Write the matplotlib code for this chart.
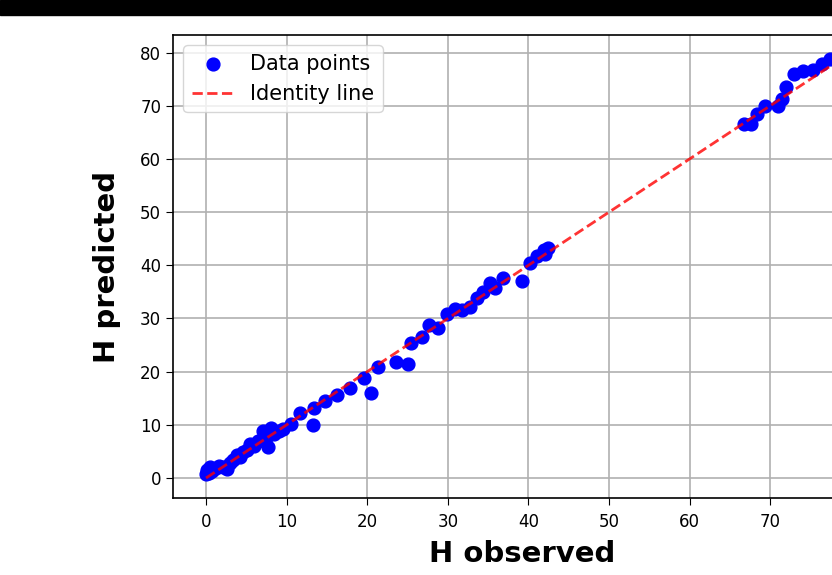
import numpy as np
import matplotlib
matplotlib.use("Agg")
import matplotlib.pyplot as plt
from matplotlib.patches import Rectangle

# observed vs predicted H values
h_obs = [0.0, 0.1, 0.4, 0.5, 0.8, 1.2, 1.6, 2.1, 2.6, 3.0, 3.4, 3.8, 4.2, 4.6,
         5.1, 5.5, 6.0, 6.4, 6.9, 7.1, 7.4, 7.7, 8.0, 8.4, 9.0, 9.5, 10.5,
         11.7, 13.3, 13.4, 14.8, 16.3, 17.9, 19.6, 20.5, 21.3, 23.6, 25.0,
         25.4, 26.8, 27.6, 28.8, 29.9, 30.9, 31.8, 32.8, 33.6, 34.4, 35.2,
         35.9, 36.9, 39.2, 40.2, 41.1, 41.9, 42.4, 42.1,
         66.8, 67.6, 68.3, 69.3, 70.9, 71.5, 71.9, 72.9, 74.1, 75.3, 76.4,
         77.4, 78.5]
h_pred = [0.8, 1.5, 1.0, 2.0, 1.3, 1.8, 2.2, 2.1, 1.6, 2.8, 3.3, 4.4, 4.0, 4.9,
          5.3, 6.4, 6.0, 6.9, 7.2, 8.9, 7.6, 5.8, 9.4, 8.3, 8.8, 9.2, 10.2,
          12.2, 9.9, 13.2, 14.5, 15.6, 16.9, 18.8, 16.0, 20.8, 21.9, 21.4,
          25.3, 26.5, 28.8, 28.2, 30.9, 31.8, 31.6, 32.2, 33.8, 34.9, 36.7,
          35.8, 37.6, 37.1, 40.4, 41.7, 42.8, 43.2, 42.2,
          66.6, 66.5, 68.5, 70.0, 70.0, 71.3, 73.6, 75.9, 76.6, 76.8, 77.9,
          78.7, 79.2]

x_ticks = [0, 10, 20, 30, 40, 50, 60, 70]
y_ticks = [0, 10, 20, 30, 40, 50, 60, 70, 80]

fig = plt.figure(figsize=(8.32, 5.75), dpi=100)
fig.patches.append(Rectangle((0, 1 - 15 / 575), 1, 15 / 575, transform=fig.transFigure,
                             color="black", zorder=10))

ax = fig.add_axes([173 / 832, 77 / 575, 698 / 832, 463 / 575])
ax.scatter(h_obs, h_pred, s=85, color="blue", label="Data points", zorder=2)
lo, hi = min(h_obs), max(h_obs)
ax.plot([lo, hi], [lo, hi], "--", color="red", lw=2, alpha=0.8,
        label="Identity line", zorder=3)

ax.set_xlim(-4.1, 82.5)
ax.set_ylim(-3.76, 83.3)
ax.set_xticks(x_ticks)
ax.set_yticks(y_ticks)
ax.tick_params(labelsize=12, length=5)
ax.tick_params(axis="x", pad=6)
ax.grid(True, color="#b0b0b0", lw=1.2)
ax.set_axisbelow(True)
for s in ax.spines.values():
    s.set_linewidth(1.2)

ax.set_xlabel("H observed", fontsize=21, fontweight="bold", labelpad=6)
ax.set_ylabel("H predicted", fontsize=21, fontweight="bold", labelpad=14)
ax.legend(loc="upper left", fontsize=15, borderaxespad=0.5)

fig.savefig("out.png", dpi=100)
